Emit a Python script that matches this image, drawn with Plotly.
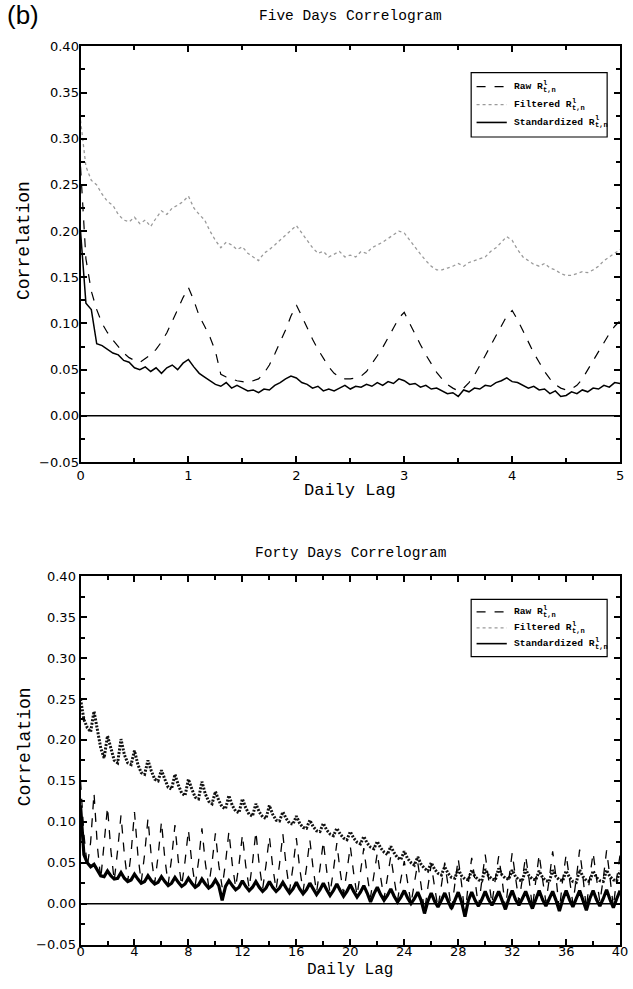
import numpy as np
import plotly.graph_objects as go

# ---------------- data: Five Days Correlogram (lag step 0.05 day) ----------------
top_step = 0.05
raw5 = [0.27, 0.17, 0.135, 0.115, 0.10, 0.09, 0.082, 0.075, 0.068, 0.063, 0.060, 0.058, 0.062, 0.066, 0.072, 0.080, 0.090, 0.102, 0.115, 0.128,
        0.139, 0.125, 0.108, 0.097, 0.085, 0.070, 0.045, 0.042, 0.040, 0.038, 0.037, 0.036, 0.038, 0.040, 0.046, 0.055, 0.067, 0.080, 0.093, 0.108,
        0.120, 0.108, 0.095, 0.083, 0.072, 0.062, 0.053, 0.046, 0.042, 0.040, 0.040, 0.041, 0.043, 0.048, 0.056, 0.065, 0.074, 0.084, 0.095, 0.106,
        0.112, 0.100, 0.088, 0.077, 0.066, 0.056, 0.047, 0.040, 0.034, 0.030, 0.027, 0.030, 0.036, 0.044, 0.054, 0.065, 0.076, 0.087, 0.098, 0.108,
        0.114, 0.104, 0.092, 0.080, 0.068, 0.058, 0.048, 0.040, 0.034, 0.030, 0.028, 0.029, 0.033, 0.040, 0.050, 0.060, 0.070, 0.080, 0.089, 0.097,
        0.103]
filt5 = [0.32, 0.27, 0.255, 0.25, 0.24, 0.232, 0.228, 0.218, 0.212, 0.21, 0.215, 0.208, 0.212, 0.205, 0.214, 0.222, 0.218, 0.225, 0.228, 0.232,
         0.238, 0.225, 0.218, 0.212, 0.20, 0.19, 0.182, 0.188, 0.185, 0.18, 0.183, 0.176, 0.172, 0.168, 0.176, 0.18, 0.185, 0.19, 0.196, 0.20,
         0.206, 0.198, 0.19, 0.182, 0.176, 0.178, 0.172, 0.175, 0.178, 0.172, 0.174, 0.172, 0.178, 0.176, 0.182, 0.185, 0.188, 0.192, 0.196, 0.20,
         0.198, 0.19, 0.182, 0.175, 0.168, 0.162, 0.158, 0.158, 0.16, 0.162, 0.165, 0.162, 0.166, 0.168, 0.17, 0.172, 0.178, 0.182, 0.188, 0.194,
         0.19, 0.18, 0.172, 0.168, 0.164, 0.162, 0.165, 0.16, 0.158, 0.154, 0.152, 0.152, 0.154, 0.156, 0.155, 0.158, 0.162, 0.168, 0.172, 0.176,
         0.18]
std5 = [0.20, 0.122, 0.115, 0.078, 0.076, 0.072, 0.068, 0.066, 0.060, 0.058, 0.052, 0.050, 0.053, 0.048, 0.052, 0.046, 0.052, 0.055, 0.050, 0.057,
        0.061, 0.053, 0.046, 0.042, 0.038, 0.034, 0.032, 0.036, 0.030, 0.033, 0.030, 0.027, 0.028, 0.025, 0.029, 0.028, 0.033, 0.036, 0.040, 0.043,
        0.041, 0.036, 0.034, 0.030, 0.032, 0.027, 0.029, 0.027, 0.030, 0.033, 0.029, 0.032, 0.031, 0.034, 0.032, 0.036, 0.033, 0.037, 0.035, 0.040,
        0.038, 0.034, 0.035, 0.031, 0.033, 0.029, 0.030, 0.027, 0.024, 0.025, 0.021, 0.028, 0.026, 0.030, 0.029, 0.033, 0.032, 0.036, 0.038, 0.041,
        0.037, 0.036, 0.033, 0.030, 0.032, 0.028, 0.029, 0.024, 0.027, 0.021, 0.022, 0.026, 0.024, 0.028, 0.026, 0.030, 0.029, 0.033, 0.031, 0.036,
        0.035]

# ---------------- data: Forty Days Correlogram (lag step 0.25 day) ----------------
bot_step = 0.25
raw40_rows = [
    [0.15, 0.085, 0.045, 0.075], [0.135, 0.07, 0.03, 0.07], [0.118, 0.065, 0.028, 0.065], [0.108, 0.06, 0.027, 0.062],
    [0.112, 0.06, 0.026, 0.06], [0.104, 0.057, 0.025, 0.058], [0.10, 0.055, 0.024, 0.055], [0.096, 0.052, 0.022, 0.052],
    [0.09, 0.05, 0.022, 0.052], [0.092, 0.05, 0.021, 0.05], [0.086, 0.047, 0.02, 0.05], [0.088, 0.048, 0.02, 0.048],
    [0.084, 0.046, 0.019, 0.05], [0.088, 0.047, 0.018, 0.047], [0.082, 0.045, 0.017, 0.048], [0.085, 0.045, 0.016, 0.045],
    [0.08, 0.043, 0.015, 0.044], [0.078, 0.042, 0.014, 0.043], [0.076, 0.04, 0.013, 0.041], [0.074, 0.039, 0.012, 0.04],
    [0.07, 0.037, 0.01, 0.038], [0.068, 0.035, 0.008, 0.035], [0.062, 0.032, 0.006, 0.032], [0.058, 0.03, 0.004, 0.03],
    [0.052, 0.026, 0.0, 0.025], [0.05, 0.022, -0.01, 0.02], [0.048, 0.02, -0.005, 0.022], [0.05, 0.022, -0.008, 0.024],
    [0.055, 0.024, -0.015, 0.025], [0.056, 0.028, -0.004, 0.028], [0.06, 0.03, 0.0, 0.03], [0.058, 0.03, -0.006, 0.029],
    [0.062, 0.032, 0.002, 0.03], [0.058, 0.03, -0.005, 0.028], [0.06, 0.03, 0.002, 0.03], [0.064, 0.032, -0.008, 0.03],
    [0.06, 0.03, 0.0, 0.03], [0.066, 0.032, -0.006, 0.032], [0.062, 0.031, 0.002, 0.03], [0.065, 0.032, -0.004, 0.031],
    [0.06]]
filt40_rows = [
    [0.25, 0.225, 0.215, 0.21], [0.235, 0.21, 0.19, 0.178], [0.205, 0.19, 0.175, 0.172], [0.201, 0.182, 0.172, 0.17],
    [0.187, 0.17, 0.16, 0.158], [0.175, 0.162, 0.152, 0.15], [0.163, 0.152, 0.142, 0.14], [0.158, 0.145, 0.135, 0.132],
    [0.152, 0.14, 0.13, 0.128], [0.149, 0.134, 0.125, 0.122], [0.137, 0.126, 0.118, 0.116], [0.132, 0.12, 0.113, 0.111],
    [0.128, 0.117, 0.109, 0.107], [0.122, 0.112, 0.106, 0.104], [0.12, 0.109, 0.102, 0.101], [0.112, 0.104, 0.098, 0.097],
    [0.107, 0.098, 0.093, 0.092], [0.102, 0.094, 0.089, 0.088], [0.098, 0.09, 0.085, 0.083], [0.092, 0.085, 0.08, 0.078],
    [0.088, 0.08, 0.075, 0.073], [0.082, 0.074, 0.069, 0.067], [0.076, 0.068, 0.063, 0.06], [0.07, 0.062, 0.056, 0.054],
    [0.064, 0.055, 0.05, 0.047], [0.057, 0.048, 0.043, 0.04], [0.05, 0.042, 0.037, 0.035], [0.045, 0.037, 0.032, 0.031],
    [0.042, 0.034, 0.03, 0.029], [0.041, 0.033, 0.029, 0.028], [0.042, 0.034, 0.03, 0.029], [0.043, 0.035, 0.031, 0.03],
    [0.041, 0.033, 0.029, 0.028], [0.042, 0.034, 0.03, 0.029], [0.04, 0.032, 0.028, 0.027], [0.041, 0.033, 0.029, 0.028],
    [0.04, 0.032, 0.027, 0.026], [0.041, 0.033, 0.028, 0.027], [0.04, 0.032, 0.028, 0.027], [0.041, 0.033, 0.029, 0.028],
    [0.04]]
std40_rows = [
    [0.12, 0.06, 0.05, 0.045], [0.048, 0.04, 0.034, 0.033], [0.04, 0.034, 0.03, 0.031], [0.038, 0.031, 0.027, 0.029],
    [0.036, 0.03, 0.025, 0.027], [0.034, 0.028, 0.024, 0.026], [0.033, 0.027, 0.022, 0.025], [0.032, 0.026, 0.021, 0.024],
    [0.031, 0.025, 0.02, 0.023], [0.03, 0.024, 0.019, 0.022], [0.029, 0.022, 0.004, 0.021], [0.028, 0.022, 0.017, 0.02],
    [0.028, 0.021, 0.016, 0.02], [0.027, 0.02, 0.015, 0.019], [0.027, 0.02, 0.015, 0.019], [0.026, 0.019, 0.013, 0.018],
    [0.026, 0.018, 0.012, 0.017], [0.025, 0.018, 0.011, 0.017], [0.025, 0.017, 0.01, 0.016], [0.024, 0.016, 0.009, 0.015],
    [0.023, 0.015, 0.008, 0.014], [0.022, 0.013, 0.002, 0.012], [0.02, 0.011, 0.004, 0.01], [0.018, 0.009, 0.002, 0.008],
    [0.016, 0.007, 0.0, 0.006], [0.014, 0.004, -0.012, 0.003], [0.013, 0.003, -0.004, 0.004], [0.013, 0.003, -0.006, 0.004],
    [0.014, 0.002, -0.016, 0.004], [0.014, 0.004, -0.003, 0.005], [0.015, 0.005, -0.002, 0.006], [0.015, 0.004, -0.007, 0.006],
    [0.016, 0.005, -0.002, 0.006], [0.015, 0.004, -0.006, 0.005], [0.016, 0.005, -0.003, 0.006], [0.015, 0.004, -0.009, 0.005],
    [0.016, 0.005, -0.004, 0.006], [0.016, 0.004, -0.008, 0.006], [0.016, 0.005, -0.003, 0.006], [0.017, 0.005, -0.005, 0.006],
    [0.016]]

series_labels = ["Raw R", "Filtered R", "Standardized R"]
label_sup = "l"
label_sub = "t,n"
titles = ["Five Days Correlogram", "Forty Days Correlogram"]
x_title = "Daily Lag"
y_title = "Correlation"
panel_label = "(b)"

raw40 = [v for r in raw40_rows for v in r]
filt40 = [v for r in filt40_rows for v in r]
std40 = [v for r in std40_rows for v in r]
x5 = np.round(np.arange(len(raw5)) * top_step, 3)
x40 = np.round(np.arange(len(raw40)) * bot_step, 3)

# ---------------- figure ----------------
W, H = 633, 989
MONO = "Liberation Mono, Courier New, monospace"
SANS = "DejaVu Sans, Arial, sans-serif"

fig = go.Figure()

def add(x, y, name, line, xa, ya):
    fig.add_trace(go.Scatter(x=x, y=y, mode="lines", name=name, line=line,
                             xaxis=xa, yaxis=ya, showlegend=False))

add(x5, filt5, series_labels[1], dict(dash="dot", color="#9a9a9a", width=1.3), "x", "y")
add(x5, raw5, series_labels[0], dict(dash="dash", color="black", width=1.2), "x", "y")
add(x5, std5, series_labels[2], dict(dash="solid", color="black", width=1.5), "x", "y")

add(x40, filt40, series_labels[1], dict(dash="2px,1.5px", color="#111111", width=3.0), "x2", "y2")
add(x40, raw40, series_labels[0], dict(dash="dash", color="black", width=1.3), "x2", "y2")
add(x40, std40, series_labels[2], dict(dash="solid", color="black", width=3.2), "x2", "y2")

X0, X1 = 78, 628
xd = [X0 / W, X1 / W]
T0, T1 = 40, 462      # top panel: y=0.40 at T0, y=-0.05 at T1 (px from top)
B0, B1 = 578, 952     # bottom panel
top_dom = [1 - T1 / H, 1 - T0 / H]
bot_dom = [1 - B1 / H, 1 - B0 / H]

ax_common = dict(showline=True, linecolor="black", linewidth=2, mirror="ticks",
                 ticks="inside", ticklen=6, tickwidth=1.5, tickcolor="black",
                 showgrid=False, zeroline=False,
                 tickfont=dict(family=SANS, size=13, color="black"))
ymin = dict(dtick=0.025, ticks="inside", ticklen=4, tickcolor="black")

fig.update_layout(
    width=W, height=H, margin=dict(l=0, r=0, t=0, b=0),
    paper_bgcolor="white", plot_bgcolor="white", showlegend=False,
    xaxis=dict(domain=xd, anchor="y", range=[0, 5], dtick=1, tick0=0,
               minor=dict(dtick=0.5, ticks="inside", ticklen=4, tickcolor="black"), **ax_common),
    yaxis=dict(domain=top_dom, anchor="x", range=[-0.05, 0.40], dtick=0.05, tick0=0, tickformat=".2f",
               minor=ymin, ticklabelstandoff=-3, **ax_common),
    xaxis2=dict(domain=xd, anchor="y2", range=[0, 40], dtick=4, tick0=0, ticklabelstandoff=-6,
                minor=dict(dtick=2, ticks="inside", ticklen=4, tickcolor="black"), **ax_common),
    yaxis2=dict(domain=bot_dom, anchor="x2", range=[-0.05, 0.40], dtick=0.05, tick0=0, tickformat=".2f",
                minor=ymin, ticklabelstandoff=0, **ax_common),
)

# zero reference lines
for xa, ya in [("x", "y"), ("x2", "y2")]:
    fig.add_shape(type="line", xref=f"{xa} domain", yref=ya, x0=0, x1=1, y0=0, y1=0,
                  line=dict(color="black", width=1.5))

# ---------------- legends (drawn in axis-domain fractions) ----------------
LEG_FONT = 9.6
LEG_BOX = (0.724, 0.976, 0.782, 0.937)       # x0, x1, y0, y1 in domain fraction
LEG_ROWS = [0.903, 0.860, 0.817]
LEG_LINE = (0.734, 0.790)
LEG_TEXT_X = 0.800
leg_styles = [dict(dash="dash", color="black", width=1.3),
              dict(dash="dot", color="#9a9a9a", width=1.3),
              dict(dash="solid", color="black", width=1.6)]
for xa in ["x", "x2"]:
    xr, yr = f"{xa} domain", f"{xa.replace('x', 'y')} domain"
    fig.add_shape(type="rect", xref=xr, yref=yr, x0=LEG_BOX[0], x1=LEG_BOX[1], y0=LEG_BOX[2], y1=LEG_BOX[3],
                  line=dict(color="black", width=1.2), fillcolor="white", layer="above")
    for lab, ry, sty in zip(series_labels, LEG_ROWS, leg_styles):
        fig.add_shape(type="line", xref=xr, yref=yr, x0=LEG_LINE[0], x1=LEG_LINE[1], y0=ry, y1=ry,
                      line=sty, layer="above")
        fig.add_annotation(text=f"<b>{lab}</b>", xref=xr, yref=yr, x=LEG_TEXT_X, y=ry,
                           xanchor="left", yanchor="middle", showarrow=False,
                           font=dict(family=MONO, size=LEG_FONT, color="black"))
        off = len(lab) * 0.6 * LEG_FONT + 0.5
        fig.add_annotation(text=f"<b>{label_sup}</b>", xref=xr, yref=yr, x=LEG_TEXT_X, y=ry,
                           xanchor="left", yanchor="middle", showarrow=False, xshift=off, yshift=4,
                           font=dict(family=MONO, size=7, color="black"))
        fig.add_annotation(text=f"<b>{label_sub}</b>", xref=xr, yref=yr, x=LEG_TEXT_X, y=ry,
                           xanchor="left", yanchor="middle", showarrow=False, xshift=off, yshift=-3,
                           font=dict(family=MONO, size=7, color="black"))

xc = (xd[0] + xd[1]) / 2
def ann(text, x, ypx, size, family=MONO, xanchor="center", yanchor="middle", angle=0):
    fig.add_annotation(text=text, x=x, y=1 - ypx / H, xref="paper", yref="paper",
                       showarrow=False, xanchor=xanchor, yanchor=yanchor, textangle=angle,
                       font=dict(family=family, size=size, color="black"))

ann(titles[0], xc, 9, 14.5)
ann(titles[1], xc, 554, 14.5)
ann(x_title, xc, 491, 17)
ann(x_title, xc, H, 16, yanchor="bottom")
ann(y_title, 21 / W, (T0 + T1) / 2 - 14, 18, angle=-90)
ann(y_title, 21 / W, (B0 + B1) / 2 - 14, 18, angle=-90)
ann(panel_label, 1 / W, 8, 26, family="Liberation Sans, Arial, sans-serif", xanchor="left")

fig.write_html("out.html")
